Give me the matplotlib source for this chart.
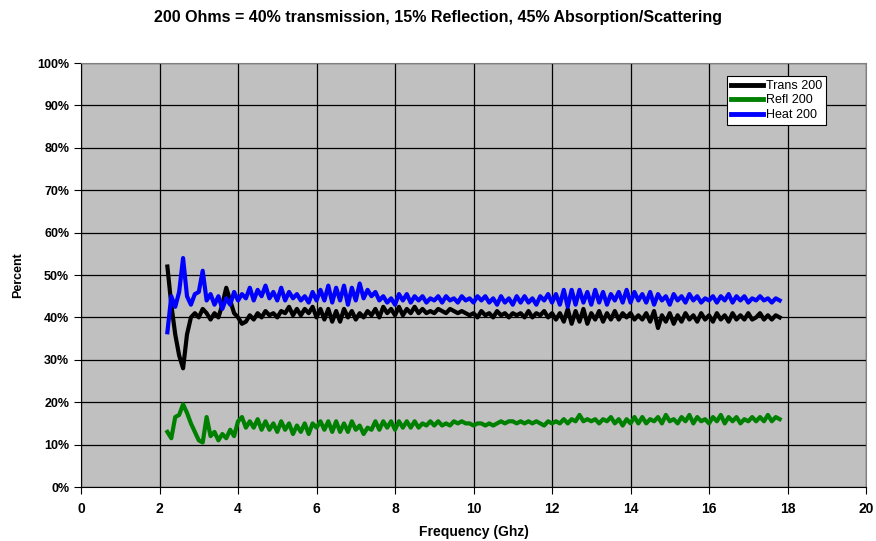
import matplotlib

matplotlib.use("Agg")

import matplotlib.pyplot as plt
import numpy as np
from matplotlib.ticker import FuncFormatter, MultipleLocator

plt.rcParams["font.family"] = ["Liberation Sans", "DejaVu Sans"]

TITLE = "200 Ohms = 40% transmission, 15% Reflection, 45% Absorption/Scattering"

# sweep 2.2 .. 17.8 GHz in 0.1 GHz steps
FREQ_GHZ = np.round(np.arange(2.2, 17.85, 0.1), 1)

TRANS_200 = [
    52, 43, 36, 31, 28, 36, 40, 41, 40, 42,
    41, 39.5, 41, 40, 43, 47, 44, 41, 40, 38.5,
    39, 40.5, 39.5, 41, 40, 41.5, 40.5, 41, 40, 41.5,
    41, 42.5, 40.5, 42, 40.5, 42, 41, 42.5, 40, 42,
    39.5, 42, 39, 41.5, 39, 42, 40, 41.5, 39.5, 41,
    40, 41.5, 40.5, 42, 40, 42.5, 41, 42, 40.5, 42.5,
    40.5, 42, 41, 42.5, 41, 42, 41, 41.5, 41, 42,
    41.5, 41, 42, 41.5, 41, 41.5, 41, 40.5, 41, 40,
    41.5, 40.5, 41, 40, 41.5, 40.5, 41, 40, 41, 40.5,
    41, 40, 41.5, 40, 41, 40.5, 41.5, 40, 41, 39.5,
    41, 39, 42, 38.5, 41.5, 39, 42, 38.5, 41, 39.5,
    41.5, 39, 41, 39.5, 41.5, 39.5, 41, 40, 41, 39.5,
    40.5, 39.5, 41, 39, 41.5, 37.5, 40.5, 39, 41, 38.5,
    40.5, 39, 41, 39.5, 40.5, 39, 41, 39.5, 40.5, 39,
    41, 39.5, 40.5, 39, 41, 39.5, 40.5, 39.5, 41, 39.5,
    40, 41, 39.5, 40.5, 39.5, 40.5, 40,
]

REFL_200 = [
    13, 11.5, 16.5, 17, 19.5, 17.5, 15, 13, 11, 10.5,
    16.5, 12, 13, 11, 12.5, 11.5, 13.5, 12, 15.5, 16.5,
    14, 15.5, 14, 16, 13.5, 15.5, 13.5, 15, 13, 15.5,
    13.5, 15, 12.5, 14.5, 13, 15, 12.5, 15, 14, 15.5,
    13.5, 15.5, 13, 15.5, 13, 15, 13, 15.5, 13.5, 14.5,
    12.5, 14, 13.5, 15.5, 13.5, 15.5, 14, 15.5, 13.5, 15.5,
    14, 15.5, 14, 15.5, 14, 15, 14.5, 15.5, 14.5, 15.5,
    14.5, 15, 14.5, 15.5, 15, 15.5, 15, 15, 14.5, 15,
    15, 14.5, 15, 14.5, 15, 15.5, 15, 15.5, 15.5, 15,
    15.5, 15, 15.5, 15, 15.5, 15, 14.5, 15.5, 15, 15.5,
    15, 16, 15, 16, 15.5, 17, 15.5, 16, 15.5, 16,
    15, 16, 15.5, 16.5, 15, 16, 14.5, 16, 15, 16.5,
    15, 16.5, 15, 16, 15.5, 16.5, 15, 17, 15.5, 16,
    15, 16.5, 15.5, 17, 15, 16.5, 15.5, 16, 15, 16.5,
    15.5, 17, 15, 16.5, 15.5, 16.5, 15, 16, 15.5, 16.5,
    15.5, 16.5, 15.5, 17, 15.5, 16.5, 16,
]

HEAT_200 = [
    36.5, 45, 42.5, 46, 54, 45, 43, 45.5, 46, 51,
    44, 45.5, 43, 45, 42, 44.5, 43, 46, 44, 45.5,
    44.5, 47, 44, 46.5, 45, 47.5, 44.5, 46, 44, 47,
    44, 46, 44.5, 45.5, 44, 45, 43.5, 46, 44, 46.5,
    44, 47.5, 43.5, 47, 44, 47.5, 43, 47, 44, 48,
    44.5, 46.5, 45, 46, 44, 45, 43.5, 44.5, 43, 45.5,
    44, 45.5, 43.5, 45, 44, 45, 43.5, 44.5, 44, 45,
    43.5, 45, 44, 44.5, 43.5, 45, 44, 44.5, 43.5, 45,
    44, 45, 43.5, 44.5, 43, 45, 43.5, 44.5, 43, 45,
    43.5, 45, 43.5, 44.5, 43, 45, 44, 45.5, 43.5, 45.5,
    43, 46.5, 42.5, 46.5, 43, 46.5, 43.5, 46, 43, 46.5,
    43.5, 46, 43, 45.5, 44, 46, 43.5, 46.5, 43.5, 46,
    44, 45.5, 43.5, 46, 43, 45.5, 44, 45, 43, 45.5,
    44, 45, 43.5, 45.5, 44, 45, 43.5, 44.5, 44, 45,
    43.5, 45, 44, 45.5, 43.5, 45, 44, 45, 43.5, 44.5,
    44, 45, 44, 44.5, 43.5, 44.5, 44,
]

SERIES = [
    ("Trans 200", TRANS_200, "#000000"),
    ("Refl 200", REFL_200, "#008000"),
    ("Heat 200", HEAT_200, "#0000ff"),
]

fig = plt.figure(figsize=(8.76, 5.41), dpi=100)
ax = fig.add_axes([0.0925, 0.0998, 0.8961, 0.7837])
ax.set_facecolor("#c0c0c0")

for label, values, color in SERIES:
    ax.plot(FREQ_GHZ, values, color=color, linewidth=3.0, label=label,
            solid_joinstyle="round")

ax.set_xlim(0, 20)
ax.set_ylim(0, 100)
ax.xaxis.set_major_locator(MultipleLocator(2))
ax.yaxis.set_major_locator(MultipleLocator(10))
ax.yaxis.set_major_formatter(FuncFormatter(lambda v, _: f"{v:.0f}%"))
ax.grid(True, color="black", linewidth=0.9)
ax.set_axisbelow(True)

for side in ("top", "right"):
    ax.spines[side].set_color("#808080")
for side in ("left", "bottom"):
    ax.spines[side].set_color("black")

ax.tick_params(direction="out", length=5, width=0.8, color="black")
for tick in ax.get_xticklabels():
    tick.set_fontsize(10)
    tick.set_fontweight("bold")
for tick in ax.get_yticklabels():
    tick.set_fontsize(9)
    tick.set_fontweight("bold")
ax.tick_params(axis="x", pad=6)

ax.set_xlabel("Frequency (Ghz)", fontsize=10, fontweight="bold", labelpad=6)
ax.set_ylabel("Percent", fontsize=9, fontweight="bold", labelpad=9)
fig.text(0.5, 0.967, TITLE, ha="center", va="center", fontsize=11.5,
         fontweight="bold")

leg = ax.legend(loc="upper left", bbox_to_anchor=(0.823, 0.969), frameon=True,
                fancybox=False, fontsize=9, handlelength=2.6, handletextpad=0.2,
                borderpad=0.3, labelspacing=0.2, borderaxespad=0)
leg.get_frame().set_edgecolor("black")
leg.get_frame().set_linewidth(0.8)
leg.get_frame().set_facecolor("white")
leg.get_frame().set_alpha(1)
for line in leg.get_lines():
    line.set_linewidth(3.5)

fig.savefig("out.png", dpi=100)
